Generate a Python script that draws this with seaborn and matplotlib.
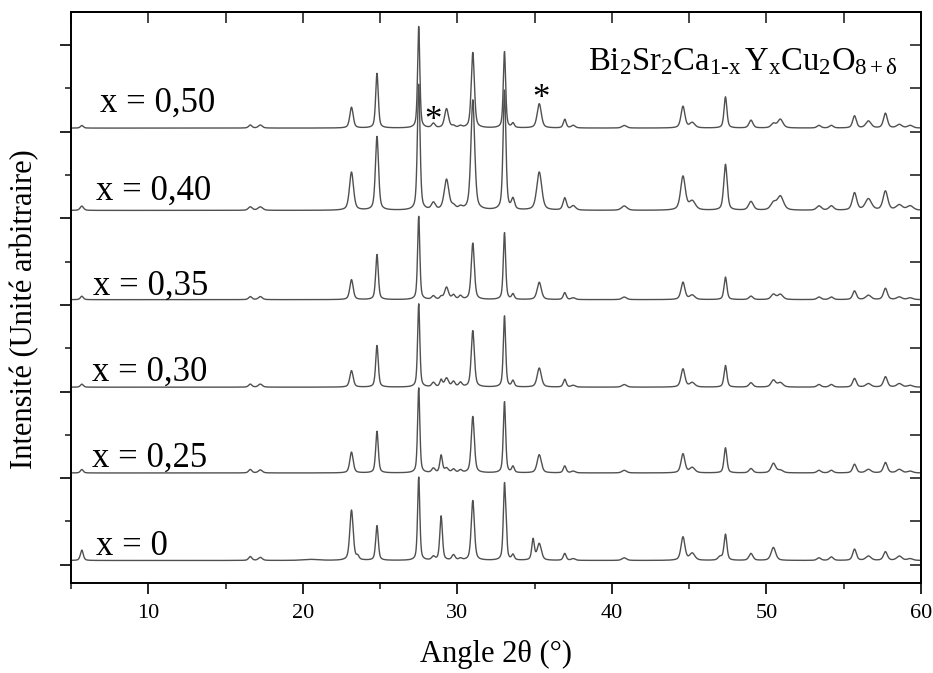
import numpy as np
import pandas as pd
import matplotlib
matplotlib.use("Agg")
import matplotlib.pyplot as plt
import seaborn as sns
from matplotlib.ticker import MultipleLocator, NullFormatter, FixedLocator

# ---------------- data ----------------
samples = ["x = 0", "x = 0,25", "x = 0,30", "x = 0,35", "x = 0,40", "x = 0,50"]
baseline = [0.05, 1.06, 2.05, 3.06, 4.09, 5.04]
width_scale = [1.0, 1.0, 1.0, 1.0, 1.2, 1.0]

peak_pos = [5.7, 16.6, 17.25, 20.5, 23.15, 23.55, 24.8, 27.5, 28.45, 28.95,
            29.3, 29.75, 30.2, 31.0, 33.05, 33.17, 33.6, 34.9, 35.3, 36.95,
            37.5, 40.8, 44.6, 45.2, 47.0, 47.35, 49.0, 50.45, 50.9, 53.4,
            54.2, 55.7, 56.6, 57.7, 58.6, 59.3]
peak_fwhm = [0.22, 0.25, 0.3, 1.2, 0.26, 0.2, 0.2, 0.17, 0.25, 0.2,
             0.3, 0.25, 0.25, 0.24, 0.18, 0.12, 0.2, 0.2, 0.32, 0.22,
             0.3, 0.35, 0.3, 0.4, 0.3, 0.22, 0.3, 0.35, 0.4, 0.3,
             0.3, 0.28, 0.4, 0.3, 0.4, 0.4]

h_000 = [0.12, 0.045, 0.035, 0.012, 0.58, 0.04, 0.40, 0.96, 0.04, 0.51,
         0.0, 0.06, 0.02, 0.69, 0.87, 0.20, 0.06, 0.24, 0.19, 0.08,
         0.02, 0.03, 0.27, 0.08, 0.04, 0.30, 0.08, 0.15, 0.0, 0.03,
         0.04, 0.13, 0.05, 0.10, 0.05, 0.02]
h_025 = [0.04, 0.04, 0.035, 0.0, 0.24, 0.0, 0.48, 0.98, 0.05, 0.20,
         0.05, 0.04, 0.03, 0.65, 0.82, 0.0, 0.07, 0.0, 0.21, 0.08,
         0.02, 0.03, 0.22, 0.06, 0.0, 0.29, 0.05, 0.11, 0.03, 0.03,
         0.03, 0.10, 0.04, 0.12, 0.04, 0.02]
h_030 = [0.035, 0.035, 0.035, 0.0, 0.19, 0.0, 0.48, 0.96, 0.05, 0.08,
         0.10, 0.06, 0.05, 0.65, 0.82, 0.0, 0.07, 0.0, 0.22, 0.09,
         0.02, 0.03, 0.21, 0.05, 0.0, 0.25, 0.05, 0.08, 0.05, 0.03,
         0.03, 0.10, 0.04, 0.12, 0.04, 0.02]
h_035 = [0.04, 0.035, 0.035, 0.0, 0.23, 0.0, 0.52, 0.96, 0.04, 0.03,
         0.14, 0.05, 0.04, 0.65, 0.77, 0.0, 0.06, 0.0, 0.20, 0.08,
         0.02, 0.03, 0.20, 0.05, 0.0, 0.26, 0.04, 0.06, 0.06, 0.03,
         0.03, 0.10, 0.05, 0.13, 0.03, 0.02]
h_040 = [0.05, 0.04, 0.04, 0.0, 0.44, 0.0, 0.85, 1.45, 0.08, 0.0,
         0.35, 0.04, 0.03, 1.27, 1.38, 0.0, 0.12, 0.0, 0.44, 0.14,
         0.05, 0.05, 0.39, 0.10, 0.0, 0.53, 0.10, 0.08, 0.16, 0.05,
         0.05, 0.20, 0.13, 0.22, 0.06, 0.05]
h_050 = [0.03, 0.035, 0.035, 0.0, 0.24, 0.0, 0.63, 1.17, 0.05, 0.0,
         0.22, 0.02, 0.02, 0.87, 0.88, 0.0, 0.05, 0.0, 0.28, 0.10,
         0.03, 0.03, 0.25, 0.06, 0.0, 0.36, 0.09, 0.05, 0.10, 0.03,
         0.03, 0.14, 0.08, 0.17, 0.04, 0.03]
heights = [h_000, h_025, h_030, h_035, h_040, h_050]

x_ticks = [10, 20, 30, 40, 50, 60]
impurity_pos = [28.4, 35.4]

# ---------------- build the patterns from the peak lists ----------------
angle = np.arange(5.0, 60.0001, 0.01)
pos = np.array(peak_pos)[:, None]
rows = []
for name, base, ws, h in zip(samples, baseline, width_scale, heights):
    w = np.array(peak_fwhm)[:, None] * ws
    d = (angle[None, :] - pos) / w
    lor = 1.0 / (1.0 + 4.0 * d ** 2)
    gau = np.exp(-4.0 * np.log(2.0) * d ** 2)
    prof = (np.array(h)[:, None] * (0.5 * lor + 0.5 * gau)).sum(axis=0)
    rows.append(pd.DataFrame({"angle": angle, "intensity": base + prof, "sample": name}))
df = pd.concat(rows, ignore_index=True)

# ---------------- style ----------------
sns.set_theme(style="ticks")
plt.rcParams["font.family"] = ["Liberation Serif", "DejaVu Serif"]
plt.rcParams["mathtext.fontset"] = "custom"
plt.rcParams["mathtext.rm"] = "Liberation Serif"
plt.rcParams["mathtext.it"] = "Liberation Serif:italic"
plt.rcParams["mathtext.bf"] = "Liberation Serif:bold"
plt.rcParams["axes.linewidth"] = 1.4

fig = plt.figure(figsize=(9.33, 6.73), dpi=100)
ax = fig.add_axes([0.0761, 0.1337, 0.9110, 0.8485])

line_color = "#505050"
for name in samples:
    sub = df[df["sample"] == name]
    sns.lineplot(data=sub, x="angle", y="intensity", ax=ax, color=line_color,
                 linewidth=1.0, estimator=None, sort=False, legend=False)

ax.set_xlim(5, 60)
ax.set_ylim(-0.21, 6.38)
for s in ax.spines.values():
    s.set_color("black")
    s.set_linewidth(1.4)

ax.xaxis.set_major_locator(FixedLocator(x_ticks))
ax.xaxis.set_minor_locator(MultipleLocator(5))
ax.yaxis.set_major_locator(MultipleLocator(1))
ax.yaxis.set_minor_locator(MultipleLocator(0.5))
ax.yaxis.set_major_formatter(NullFormatter())
ax.tick_params(axis="both", which="major", direction="out", length=8, width=1.2,
               labelsize=16, pad=7, colors="black", top=False, right=False)
ax.tick_params(axis="both", which="minor", direction="out", length=4.5, width=1.2,
               top=False, right=False)
ax.tick_params(axis="y", which="both", labelleft=False)

# mirrored top / right axes with inward ticks
top = ax.secondary_xaxis("top")
top.xaxis.set_major_locator(MultipleLocator(5))
top.xaxis.set_major_formatter(NullFormatter())
top.tick_params(direction="in", length=8, width=1.2)
top.spines["top"].set_linewidth(1.4)
right = ax.secondary_yaxis("right")
right.yaxis.set_major_locator(MultipleLocator(0.5))
right.yaxis.set_major_formatter(NullFormatter())
right.tick_params(direction="in", length=8, width=1.2)
right.spines["right"].set_linewidth(1.4)

ax.set_xlabel("Angle 2θ (°)", fontsize=22, labelpad=12, color="black")
ax.set_ylabel("Intensité (Unité arbitraire)", fontsize=22, color="black")
ax.yaxis.set_label_coords(-0.037, 0.48)

# sample labels
label_x = [6.62, 6.36, 6.36, 6.42, 6.62, 6.88]
label_y = [0.115, 1.13, 2.13, 3.115, 4.21, 5.23]
for name, lx, ly in zip(samples, label_x, label_y):
    ax.text(lx, ly, name, fontsize=25, ha="left", va="baseline", color="black")

# impurity markers
star_y = [5.02, 5.27]
for sx, sy in zip(impurity_pos, star_y):
    ax.text(sx, sy, "*", fontsize=25, ha="center", va="baseline", color="black")

ax.text(58.5, 5.71,
        r"$\mathrm{Bi_{2}Sr_{2}Ca_{1\text{-}x}\,Y_{x}Cu_{2}O_{8+\delta}}$",
        fontsize=23.5, ha="right", va="baseline", color="black")

fig.savefig("out.png", dpi=100)
